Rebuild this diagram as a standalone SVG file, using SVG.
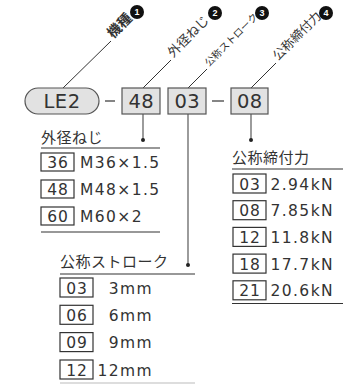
<svg xmlns="http://www.w3.org/2000/svg" width="343" height="384" viewBox="0 0 343 384">
<style>
.jp{font-family:"Noto Sans CJK JP","Noto Sans",sans-serif;fill:#333}
.num{font-family:"DejaVu Sans","Liberation Sans",sans-serif;fill:#333}
.code{fill:#e2e2e2;stroke:#555;stroke-width:1.2}
.cbox{fill:#fff;stroke:#333;stroke-width:1.2}
.ln{stroke:#333;stroke-width:1.2;fill:none}
.vl{stroke:#666;stroke-width:1.3;fill:none}
.lead{stroke:#333;stroke-width:1;fill:none}
.badge{fill:#111}
.bn{font-family:"Liberation Sans",sans-serif;font-weight:bold;font-size:9px;fill:#fff;text-anchor:middle}
.ct{font-size:19.5px;text-anchor:middle;letter-spacing:0.5px}
.bt{font-size:15.5px;text-anchor:middle;letter-spacing:1px}
.vt{font-size:15.5px;letter-spacing:1.4px}
.hd{font-size:15px;letter-spacing:0.5px}
</style>
<g id="connectors">
<line class="lead" x1="63" y1="88" x2="111" y2="41"/>
<line class="lead" x1="143" y1="88" x2="171" y2="60"/>
<line class="lead" x1="188" y1="88" x2="207" y2="69"/>
<line class="lead" x1="251" y1="88" x2="276" y2="63"/>
<line class="ln" x1="105" y1="101" x2="115" y2="101"/>
<line class="ln" x1="212" y1="101" x2="224" y2="101"/>
<line class="vl" x1="143" y1="114" x2="143" y2="140"/>
<circle cx="143" cy="140" r="2" fill="#222"/>
<line class="vl" x1="188" y1="114" x2="188" y2="265"/>
<circle cx="188" cy="265" r="2" fill="#222"/>
<line class="vl" x1="251" y1="114" x2="251" y2="140"/>
<circle cx="251" cy="140" r="2" fill="#222"/>
</g>
<g id="label1">
<text class="jp" font-size="14" font-weight="bold" transform="translate(113,39) rotate(-45)">機種</text>
<circle class="badge" cx="137" cy="12" r="7"/><text class="bn" x="137" y="15.2">1</text>
</g>
<g id="label2">
<text class="jp" font-size="13" transform="translate(173,58) rotate(-45)">外径ねじ</text>
<circle class="badge" cx="215" cy="13" r="7"/><text class="bn" x="215" y="16.2">2</text>
</g>
<g id="label3">
<text class="jp" font-size="10" transform="translate(209,67) rotate(-45)">公称ストローク</text>
<circle class="badge" cx="262" cy="13" r="7"/><text class="bn" x="262" y="16.2">3</text>
</g>
<g id="label4">
<text class="jp" font-size="12.5" transform="translate(278,61) rotate(-45)">公称締付力</text>
<circle class="badge" cx="326" cy="13" r="7"/><text class="bn" x="326" y="16.2">4</text>
</g>
<g id="model">
<rect class="code" x="25" y="88" width="74" height="26" rx="13"/>
<text class="num ct" x="62" y="108">LE2</text>
</g>
<g id="code-thread">
<rect class="code" x="122" y="88" width="38" height="26"/>
<text class="num ct" x="141.3" y="108">48</text>
</g>
<g id="code-stroke">
<rect class="code" x="168" y="88" width="38" height="26"/>
<text class="num ct" x="187.3" y="108">03</text>
</g>
<g id="code-force">
<rect class="code" x="231" y="88" width="37" height="26"/>
<text class="num ct" x="249.8" y="108">08</text>
</g>
<g id="table-thread">
<text class="jp hd" x="41" y="143">外径ねじ</text>
<line class="ln" x1="41" y1="148" x2="160" y2="148"/>
<rect class="cbox" x="41" y="153" width="33" height="18"/><text class="num bt" x="58" y="168">36</text><text class="num vt" x="80" y="168">M36×1.5</text>
<rect class="cbox" x="41" y="180" width="33" height="18"/><text class="num bt" x="58" y="195">48</text><text class="num vt" x="80" y="195">M48×1.5</text>
<rect class="cbox" x="41" y="207" width="33" height="18"/><text class="num bt" x="58" y="222">60</text><text class="num vt" x="80" y="222">M60×2</text>
<line class="ln" x1="41" y1="232" x2="160" y2="232"/>
</g>
<g id="table-force">
<text class="jp hd" x="232" y="163">公称締付力</text>
<line class="ln" x1="232" y1="169" x2="343" y2="169"/>
<rect class="cbox" x="233" y="174" width="33" height="19"/><text class="num bt" x="250" y="189.5">03</text><text class="num vt" x="334" y="189.5" text-anchor="end">2.94kN</text>
<rect class="cbox" x="233" y="200.7" width="33" height="19"/><text class="num bt" x="250" y="216.2">08</text><text class="num vt" x="334" y="216.2" text-anchor="end">7.85kN</text>
<rect class="cbox" x="233" y="227.4" width="33" height="19"/><text class="num bt" x="250" y="242.9">12</text><text class="num vt" x="334" y="242.9" text-anchor="end">11.8kN</text>
<rect class="cbox" x="233" y="254.1" width="33" height="19"/><text class="num bt" x="250" y="269.6">18</text><text class="num vt" x="334" y="269.6" text-anchor="end">17.7kN</text>
<rect class="cbox" x="233" y="280.8" width="33" height="19"/><text class="num bt" x="250" y="296.3">21</text><text class="num vt" x="334" y="296.3" text-anchor="end">20.6kN</text>
<line class="ln" x1="232" y1="303.5" x2="343" y2="303.5"/>
</g>
<g id="table-stroke">
<text class="jp hd" x="60" y="267">公称ストローク</text>
<line class="ln" x1="60" y1="274" x2="195" y2="274"/>
<rect class="cbox" x="60" y="278" width="33" height="19"/><text class="num bt" x="77" y="293.5">03</text><text class="num vt" x="153" y="293.5" text-anchor="end">3mm</text>
<rect class="cbox" x="60" y="305.3" width="33" height="19"/><text class="num bt" x="77" y="320.8">06</text><text class="num vt" x="153" y="320.8" text-anchor="end">6mm</text>
<rect class="cbox" x="60" y="332.6" width="33" height="19"/><text class="num bt" x="77" y="348.1">09</text><text class="num vt" x="153" y="348.1" text-anchor="end">9mm</text>
<rect class="cbox" x="60" y="360" width="33" height="19"/><text class="num bt" x="77" y="375.5">12</text><text class="num vt" x="153" y="375.5" text-anchor="end">12mm</text>
<line x1="60" y1="383" x2="195" y2="383" stroke="#bbb" stroke-width="1"/>
</g>
</svg>
